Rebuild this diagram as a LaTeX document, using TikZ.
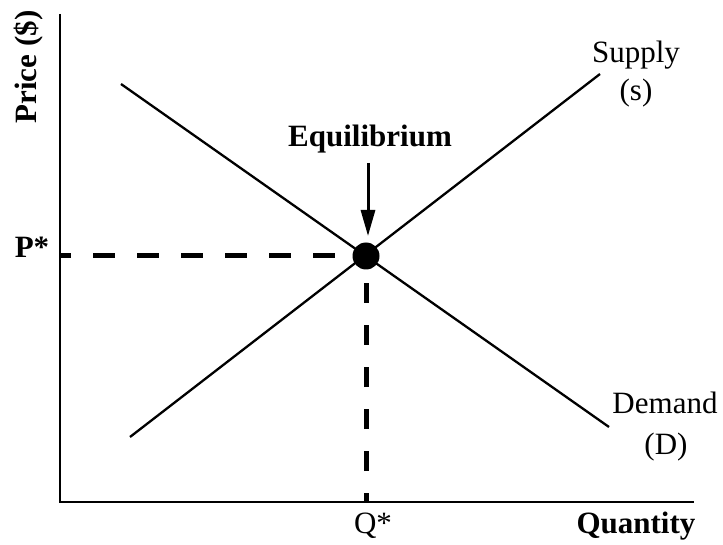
\documentclass[tikz,border=0pt]{standalone}
\usepackage{fontspec}
\setmainfont{Liberation Serif}
\usetikzlibrary{arrows.meta}
\begin{document}
\begin{tikzpicture}[x=1pt,y=-1pt,
  lbl/.style={inner sep=0pt, font=\fontsize{31}{36}\selectfont},
  blbl/.style={inner sep=0pt, font=\fontsize{31}{36}\selectfont\bfseries},
  axis/.style={line width=2.7pt},
  curve/.style={line width=2.3pt},
  guide/.style={line width=5pt, dash pattern=on 22pt off 22pt},
  eqdot/.style={circle, fill=black, minimum size=27pt, inner sep=0pt},
  pointer/.style={line width=3pt, -{Triangle[length=26pt,width=14pt]}}]
\useasboundingbox (0,0) rectangle (723,545);
% axes
\coordinate (ytop) at (60,14);
\coordinate (O) at (60,502);
\coordinate (xend) at (694,502);
\draw[axis] (ytop) -- (O) -- (xend);
% curves
\coordinate (s1) at (130,437);
\coordinate (s2) at (600,74);
\coordinate (d1) at (121,84);
\coordinate (d2) at (609,427);
\draw[curve] (s1) -- (s2);
\draw[curve] (d1) -- (d2);
% guides
\coordinate (E) at (366,256);
\coordinate (pax) at (60,256);
\coordinate (qax) at (366,502);
\draw[guide, dash phase=11pt] (pax) -- (E);
\draw[guide, dash pattern=on 20pt off 22pt, dash phase=11pt] (qax) -- (E);
\node[eqdot] (eq) at (E) {};
% labels
\node[blbl, anchor=base] (eqlbl) at (370,147) {Equilibrium};
\coordinate (arrtop) at (368,163);
\coordinate (arrtip) at (368,236);
\draw[pointer] (arrtop) -- (arrtip);
\node[lbl, anchor=base] (sup1) at (636,63) {Supply};
\node[lbl, anchor=base] (sup2) at (636,101) {(s)};
\node[lbl, anchor=base] (dem1) at (665,413) {Demand};
\node[lbl, anchor=base] (dem2) at (666,454) {(D)};
\node[lbl, anchor=base] (qstar) at (373,533) {Q*};
\node[blbl, anchor=base] (qlbl) at (636,533) {Quantity};
\node[blbl, anchor=base] (pstar) at (32,258) {P*};
\node[blbl, anchor=base, rotate=90] (plbl) at (36.5,67) {Price (\$)};
\end{tikzpicture}
\end{document}
